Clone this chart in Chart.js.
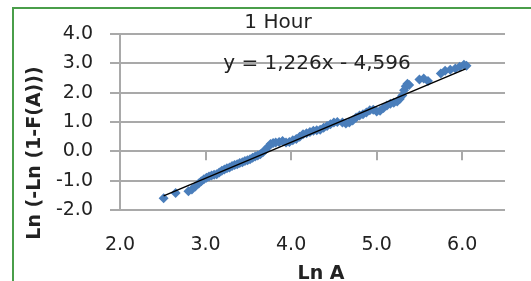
<!DOCTYPE html>
<html>
<head>
<meta charset="utf-8">
<script src="https://cdn.jsdelivr.net/npm/chart.js@4"></script>
<style>
  html, body { margin: 0; padding: 0; background: #fff; }
  canvas { display: block; }
</style>
</head>
<body>
<canvas id="weibull" width="531" height="281"></canvas>
<script>
// Ln A 값 (x축)
var lnA = [
  2.51, 2.65, 2.80, 2.84, 2.88, 2.92, 2.95, 2.98, 3.01, 3.04,
  3.07, 3.10, 3.13, 3.16, 3.19, 3.22, 3.25, 3.28, 3.31, 3.34,
  3.37, 3.40, 3.43, 3.46, 3.49, 3.52, 3.55, 3.58, 3.61, 3.64,
  3.67, 3.70, 3.73, 3.76, 3.79, 3.82, 3.86, 3.90, 3.94, 3.98,
  4.02, 4.06, 4.10, 4.14, 4.18, 4.22, 4.26, 4.30, 4.34, 4.38,
  4.42, 4.46, 4.50, 4.54, 4.60, 4.64, 4.68, 4.72, 4.76, 4.80,
  4.84, 4.88, 4.92, 4.96, 5.00, 5.04, 5.08, 5.12, 5.16, 5.20,
  5.24, 5.27, 5.30, 5.32, 5.34, 5.36, 5.38, 5.50, 5.55, 5.60,
  5.75, 5.80, 5.86, 5.92, 5.97, 6.02, 6.05
];
// Ln(-Ln(1-F(A))) 값 (y축)
var lnF = [
  -1.60, -1.42, -1.36, -1.30, -1.20, -1.10, -1.02, -0.95, -0.90, -0.86,
  -0.82, -0.80, -0.78, -0.72, -0.66, -0.62, -0.58, -0.55, -0.50, -0.47,
  -0.44, -0.40, -0.37, -0.33, -0.30, -0.27, -0.22, -0.18, -0.14, -0.10,
  -0.03, 0.05, 0.15, 0.25, 0.28, 0.30, 0.32, 0.35, 0.30, 0.32,
  0.38, 0.42, 0.50, 0.58, 0.62, 0.66, 0.70, 0.72, 0.74, 0.80,
  0.86, 0.92, 0.98, 1.00, 0.98, 0.95, 0.98, 1.05, 1.15, 1.22,
  1.26, 1.32, 1.40, 1.42, 1.36, 1.38, 1.48, 1.56, 1.62, 1.66,
  1.70, 1.78, 1.90, 2.08, 2.22, 2.30, 2.26, 2.45, 2.48, 2.40,
  2.65, 2.75, 2.78, 2.82, 2.88, 2.95, 2.92
];
// 추세선 양 끝점 (y = 1,226x - 4,596)
var trendX = [2.51, 6.04];
var trendY = [-1.52, 2.81];

var xTicks = [2, 3, 4, 5, 6];
var yTicks = [-2, -1, 0, 1, 2, 3, 4];

var titleText = "1 Hour";
var equationText = "y = 1,226x - 4,596";
var xTitle = "Ln A";
var yTitle = "Ln (-Ln (1-F(A)))";

var gridColor = "#a9a9a9";
var textColor = "#222222";
var fontFamily = "'DejaVu Sans', sans-serif";

// 배경, 테두리, 텍스트, 0 축 눈금 그리기
var decorPlugin = {
  id: "decor",
  beforeDraw: function (chart) {
    var ctx = chart.ctx;
    ctx.save();
    ctx.fillStyle = "#ffffff";
    ctx.fillRect(0, 0, chart.width, chart.height);
    ctx.strokeStyle = "#4a9e4a";
    ctx.lineWidth = 2;
    ctx.beginPath();
    ctx.moveTo(13, chart.height);
    ctx.lineTo(13, 8);
    ctx.lineTo(chart.width, 8);
    ctx.stroke();
    ctx.restore();
  },
  beforeDatasetsDraw: function (chart) {
    var ctx = chart.ctx;
    var xs = chart.scales.x;
    var ys = chart.scales.y;
    var y0 = ys.getPixelForValue(0);
    ctx.save();
    ctx.strokeStyle = gridColor;
    ctx.lineWidth = 2;
    xTicks.forEach(function (v) {
      if (v === xs.min) return;
      var px = Math.round(xs.getPixelForValue(v));
      ctx.beginPath();
      ctx.moveTo(px, y0);
      ctx.lineTo(px, y0 + 9);
      ctx.stroke();
    });
    ctx.restore();
  },
  afterDraw: function (chart) {
    var ctx = chart.ctx;
    var area = chart.chartArea;
    ctx.save();
    ctx.fillStyle = textColor;
    ctx.textAlign = "center";
    ctx.textBaseline = "middle";
    ctx.font = "20px " + fontFamily;
    ctx.fillText(titleText, 278, area.top - 11);
    ctx.fillText(equationText, 317, chart.scales.y.getPixelForValue(3));

    ctx.font = "bold 19px " + fontFamily;
    ctx.textBaseline = "alphabetic";
    ctx.fillText(xTitle, 321, 279);

    ctx.translate(40, 153);
    ctx.rotate(-Math.PI / 2);
    ctx.fillText(yTitle, 0, 0);
    ctx.restore();
  },
};

var ctx = document.getElementById("weibull").getContext("2d");
var chart = new Chart(ctx, {
  type: "scatter",
  data: {
    datasets: [
      {
        label: "trend",
        data: trendX.map(function (x, i) { return { x: x, y: trendY[i] }; }),
        showLine: true,
        borderColor: "#000000",
        borderWidth: 1.5,
        pointRadius: 0,
      },
      {
        label: "1 Hour",
        data: lnA.map(function (x, i) { return { x: x, y: lnF[i] }; }),
        pointStyle: "rectRot",
        pointRadius: 5,
        backgroundColor: "#4a7ebb",
        borderColor: "#4a7ebb",
        borderWidth: 0,
      },
    ],
  },
  options: {
    responsive: false,
    animation: false,
    layout: { padding: { left: 13, top: 34, right: 26, bottom: 0 } },
    plugins: {
      legend: { display: false },
      tooltip: { enabled: false },
      title: { display: false },
    },
    scales: {
      x: {
        type: "linear",
        min: 2,
        max: 6.5,
        afterBuildTicks: function (scale) {
          scale.ticks = xTicks.map(function (v) { return { value: v }; });
        },
        afterFit: function (scale) { scale.height = 71; },
        grid: { display: false, drawTicks: false },
        border: { display: false },
        ticks: {
          padding: 24,
          color: textColor,
          font: { family: fontFamily, size: 19 },
          maxRotation: 0,
          callback: function (v) { return Number(v).toFixed(1); },
        },
      },
      y: {
        type: "linear",
        min: -2,
        max: 4,
        afterBuildTicks: function (scale) {
          scale.ticks = yTicks.map(function (v) { return { value: v }; });
        },
        afterFit: function (scale) { scale.width = 107; },
        grid: { color: gridColor, lineWidth: 2, tickLength: 10 },
        border: { display: true, color: gridColor, width: 2 },
        ticks: {
          padding: 17,
          color: textColor,
          font: { family: fontFamily, size: 19 },
          callback: function (v) { return Number(v).toFixed(1); },
        },
      },
    },
  },
  plugins: [decorPlugin],
});
</script>
</body>
</html>
